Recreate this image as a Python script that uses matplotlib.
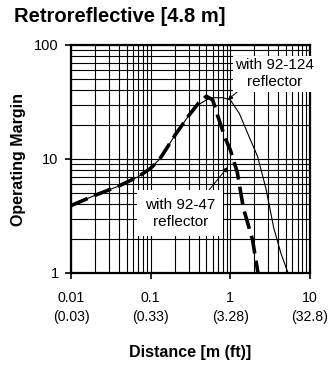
import matplotlib
matplotlib.use("Agg")
import matplotlib.pyplot as plt
from matplotlib.ticker import LogLocator, NullFormatter, FixedLocator

# data
x_124 = [0.01, 0.02, 0.04, 0.07, 0.1, 0.13, 0.16, 0.2, 0.3, 0.4, 0.5, 0.6, 0.8, 1.0, 1.3, 1.7, 2.2, 2.8, 3.5, 4.3, 5.3]
y_124 = [3.9, 4.8, 5.8, 7.0, 8.3, 10, 12.5, 16, 24, 30, 33, 34.5, 34.5, 33, 25, 16, 10.5, 5.5, 2.5, 1.5, 1.0]
x_47 = [0.01, 0.02, 0.04, 0.07, 0.1, 0.13, 0.16, 0.2, 0.3, 0.4, 0.5, 0.6, 0.7, 0.87, 1.0, 1.22, 1.46, 1.9, 2.25]
y_47 = [3.9, 4.8, 5.8, 7.0, 8.3, 10, 12.5, 16, 24, 31, 35.5, 33, 23.5, 15, 12, 7.7, 3.7, 1.95, 0.95]
x_ticks = [0.01, 0.1, 1, 10]
x_ticklabels = ["0.01\n(0.03)", "0.1\n(0.33)", "1\n(3.28)", "10\n(32.8)"]
y_ticks = [1, 10, 100]
y_ticklabels = ["1", "10", "100"]

plt.rcParams['font.family'] = ['Liberation Sans', 'DejaVu Sans']

fig = plt.figure(figsize=(3.28, 3.65), dpi=100)
ax = fig.add_axes([71/328, 1-273/365, (310-71)/328, (273-45)/365])
ax.set_xscale('log')
ax.set_yscale('log')
ax.set_xlim(0.01, 10)
ax.set_ylim(1, 100)

ax.plot(x_124, y_124, color='black', lw=0.8, zorder=3)
ax.plot(x_47, y_47, color='black', lw=2.6, linestyle=(0, (5, 2)), zorder=4)

ax.xaxis.set_major_locator(FixedLocator(x_ticks))
ax.set_xticklabels(x_ticklabels, fontsize=10.2, linespacing=1.45)
ax.yaxis.set_major_locator(FixedLocator(y_ticks))
ax.set_yticklabels(y_ticklabels, fontsize=10.5)
ax.xaxis.set_minor_locator(LogLocator(base=10, subs=range(2, 10)))
ax.yaxis.set_minor_locator(LogLocator(base=10, subs=range(2, 10)))
ax.xaxis.set_minor_formatter(NullFormatter())
ax.yaxis.set_minor_formatter(NullFormatter())
ax.grid(True, which='both', color='black', lw=0.8, zorder=1)
ax.tick_params(which='major', direction='out', length=4, width=1.2)
ax.tick_params(axis='y', pad=5)
ax.tick_params(axis='x', pad=9)
ax.tick_params(which='minor', length=0)
for s in ax.spines.values():
    s.set_linewidth(1.6)
ax.set_axisbelow(True)

ax.set_xlabel("Distance [m (ft)]", fontsize=11.5, fontweight='bold', labelpad=15)
ax.set_ylabel("Operating Margin", fontsize=11.5, fontweight='bold', labelpad=6)
fig.text(14/328, 1-17/365, "Retroreflective [4.8 m]", fontsize=14.5, fontweight='bold', va='center', ha='left')

# annotations
ax.annotate("with 92-124\nreflector", xy=(0.93, 33), xytext=(3.6, 56),
            fontsize=11, ha='center', va='center', linespacing=1.3,
            bbox=dict(boxstyle='square,pad=0.15', fc='white', ec='none'),
            arrowprops=dict(arrowstyle='-|>', color='black', lw=0.7, mutation_scale=7,
                            shrinkA=0, shrinkB=0, relpos=(0.2, 0.3)),
            annotation_clip=False, zorder=6)
ax.annotate("with 92-47\nreflector", xy=(0.93, 8.5), xytext=(0.235, 3.35),
            fontsize=11, ha='center', va='center', linespacing=1.25,
            bbox=dict(boxstyle='square,pad=0.5', fc='white', ec='none'),
            arrowprops=dict(arrowstyle='-|>', color='black', lw=0.7, mutation_scale=7,
                            shrinkA=0, shrinkB=0, relpos=(0.82, 1.0)),
            zorder=6)

fig.savefig("out.png", dpi=100)
